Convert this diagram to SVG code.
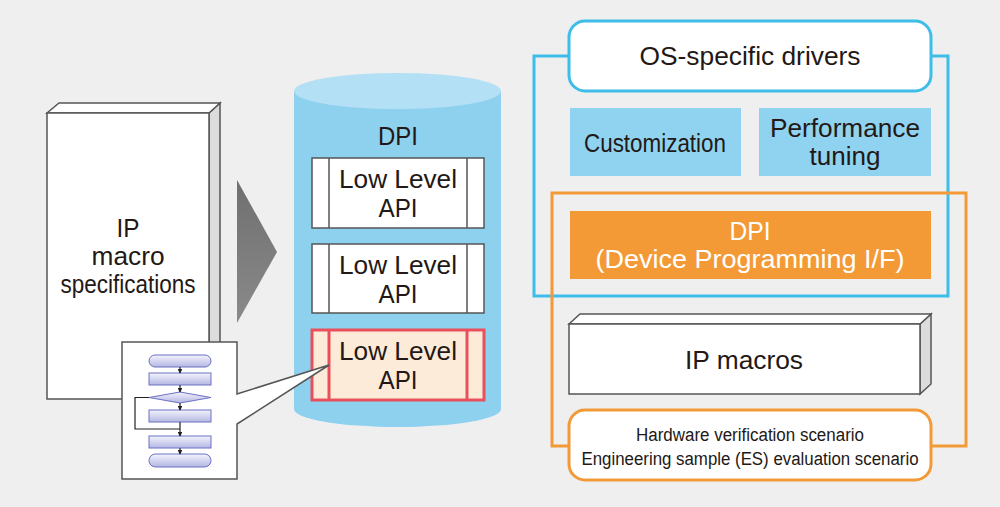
<svg xmlns="http://www.w3.org/2000/svg" width="1000" height="507" viewBox="0 0 1000 507">
<defs>
<linearGradient id="fc" x1="0" y1="0" x2="0" y2="1"><stop offset="0" stop-color="#f4f4fc"/><stop offset="1" stop-color="#b4b6e2"/></linearGradient>
<linearGradient id="tri" x1="0" y1="0" x2="0" y2="1"><stop offset="0" stop-color="#6f6f6f"/><stop offset="1" stop-color="#8a8a8a"/></linearGradient>
<marker id="ah" viewBox="0 0 6 6" refX="5" refY="3" markerWidth="4" markerHeight="4" orient="auto"><path d="M0,0 L6,3 L0,6 Z" fill="#222"/></marker>
<style>
text{font-family:"Liberation Sans",Arial,sans-serif;fill:#231815;text-anchor:middle}
.t26{font-size:26px}
.t18{font-size:18px}
.w{fill:#ffffff}
.box{fill:#fff;stroke:#555;stroke-width:1.5}
.fcs{fill:url(#fc);stroke:#6a72c4;stroke-width:1}
.fl{stroke:#222;stroke-width:1.2;fill:none}
.api{fill:#fff;stroke:#555;stroke-width:1.5}
</style>
</defs>
<rect width="1000" height="507" fill="#efefef"/>

<g id="ip-spec">
<polygon points="209,113 220,103 220,389 209,399" fill="#dcdcdc" stroke="#555" stroke-width="1.5"/>
<polygon points="47,113 59,103 220,103 209,113" fill="#fff" stroke="#555" stroke-width="1.5"/>
<rect x="47" y="113" width="162" height="286" class="box"/>
<text class="t26" x="128" y="237" textLength="23" lengthAdjust="spacingAndGlyphs">IP</text>
<text class="t26" x="128" y="265" textLength="73" lengthAdjust="spacingAndGlyphs">macro</text>
<text class="t26" x="128" y="293" textLength="135" lengthAdjust="spacingAndGlyphs">specifications</text>
</g>

<g id="arrow">
<polygon points="237,180 277,252 237,323" fill="url(#tri)"/>
</g>

<g id="dpi-cylinder">
<path d="M294,91 V409 A103.5,18 0 0 0 501,409 V91 Z" fill="#8ed1ef"/>
<ellipse cx="397.5" cy="91" rx="103.5" ry="18" fill="#b3e0f5"/>
<text class="t26" x="398" y="145" textLength="40" lengthAdjust="spacingAndGlyphs">DPI</text>
</g>

<g id="api1">
<rect x="312" y="158" width="172" height="70" class="api"/>
<line x1="329" y1="158" x2="329" y2="228" stroke="#555" stroke-width="1.5"/>
<line x1="467" y1="158" x2="467" y2="228" stroke="#555" stroke-width="1.5"/>
<text class="t26" x="398" y="188" textLength="118" lengthAdjust="spacingAndGlyphs">Low Level</text>
<text class="t26" x="398" y="217" textLength="39" lengthAdjust="spacingAndGlyphs">API</text>
</g>
<g id="api2">
<rect x="312" y="244" width="172" height="69" class="api"/>
<line x1="329" y1="244" x2="329" y2="313" stroke="#555" stroke-width="1.5"/>
<line x1="467" y1="244" x2="467" y2="313" stroke="#555" stroke-width="1.5"/>
<text class="t26" x="398" y="274" textLength="118" lengthAdjust="spacingAndGlyphs">Low Level</text>
<text class="t26" x="398" y="303" textLength="39" lengthAdjust="spacingAndGlyphs">API</text>
</g>
<g id="api3">
<rect x="312" y="330" width="172" height="70" fill="#fdebd9" stroke="#e8505b" stroke-width="3"/>
<line x1="329" y1="330" x2="329" y2="400" stroke="#e8505b" stroke-width="3"/>
<line x1="467" y1="330" x2="467" y2="400" stroke="#e8505b" stroke-width="3"/>
<text class="t26" x="398" y="360" textLength="118" lengthAdjust="spacingAndGlyphs">Low Level</text>
<text class="t26" x="398" y="389" textLength="39" lengthAdjust="spacingAndGlyphs">API</text>
</g>

<g id="flowchart">
<path d="M122,342 H237 V394 L329,365 L237,424 V479 H122 Z" class="box" stroke-linejoin="miter"/>
<rect x="149" y="355" width="62" height="12" rx="6" class="fcs"/>
<rect x="149" y="373" width="62" height="12" class="fcs"/>
<polygon points="149,397.5 180,392 211,397.5 180,403" class="fcs"/>
<rect x="149" y="410" width="62" height="12" class="fcs"/>
<rect x="149" y="436" width="62" height="12" class="fcs"/>
<rect x="149" y="454" width="62" height="13" rx="6.5" class="fcs"/>
<line x1="180" y1="367" x2="180" y2="373" class="fl" marker-end="url(#ah)"/>
<line x1="180" y1="385" x2="180" y2="392" class="fl" marker-end="url(#ah)"/>
<line x1="180" y1="403" x2="180" y2="410" class="fl" marker-end="url(#ah)"/>
<line x1="180" y1="422" x2="180" y2="436" class="fl" marker-end="url(#ah)"/>
<line x1="180" y1="448" x2="180" y2="454" class="fl" marker-end="url(#ah)"/>
<polyline points="149,397.5 135,397.5 135,429 180,429" class="fl"/>
</g>

<g id="frames">
<rect x="534" y="56" width="414" height="240" fill="none" stroke="#3dbde8" stroke-width="3"/>
<rect x="552" y="193" width="414" height="253" fill="none" stroke="#f29a38" stroke-width="3"/>
</g>

<g id="os-drivers">
<rect x="569" y="21" width="362" height="70" rx="16" fill="#fff" stroke="#3dbde8" stroke-width="3"/>
<text class="t26" x="750" y="65" textLength="221" lengthAdjust="spacingAndGlyphs">OS-specific drivers</text>
</g>

<g id="customization">
<rect x="570" y="108" width="171" height="68" fill="#8fd3f0"/>
<text class="t26" x="655" y="152" textLength="142" lengthAdjust="spacingAndGlyphs">Customization</text>
</g>

<g id="performance">
<rect x="759" y="108" width="172" height="68" fill="#8fd3f0"/>
<text class="t26" x="845" y="137" textLength="150" lengthAdjust="spacingAndGlyphs">Performance</text>
<text class="t26" x="845" y="165" textLength="71" lengthAdjust="spacingAndGlyphs">tuning</text>
</g>

<g id="dpi-if">
<rect x="570" y="211" width="361" height="68" fill="#f39a37"/>
<text class="t26 w" x="750" y="240" textLength="41" lengthAdjust="spacingAndGlyphs">DPI</text>
<text class="t26 w" x="750" y="268" textLength="309" lengthAdjust="spacingAndGlyphs">(Device Programming I/F)</text>
</g>

<g id="ip-macros">
<polygon points="920,324 931,314 931,384 920,394" fill="#dcdcdc" stroke="#555" stroke-width="1.5"/>
<polygon points="569,324 580,314 931,314 920,324" fill="#fff" stroke="#555" stroke-width="1.5"/>
<rect x="569" y="324" width="351" height="70" class="box"/>
<text class="t26" x="744" y="369" textLength="118" lengthAdjust="spacingAndGlyphs">IP macros</text>
</g>

<g id="scenarios">
<rect x="569" y="410" width="362" height="70" rx="16" fill="#fff" stroke="#f29a38" stroke-width="3"/>
<text class="t18" x="750" y="441" textLength="228" lengthAdjust="spacingAndGlyphs">Hardware verification scenario</text>
<text class="t18" x="750" y="465" textLength="337" lengthAdjust="spacingAndGlyphs">Engineering sample (ES) evaluation scenario</text>
</g>
</svg>
